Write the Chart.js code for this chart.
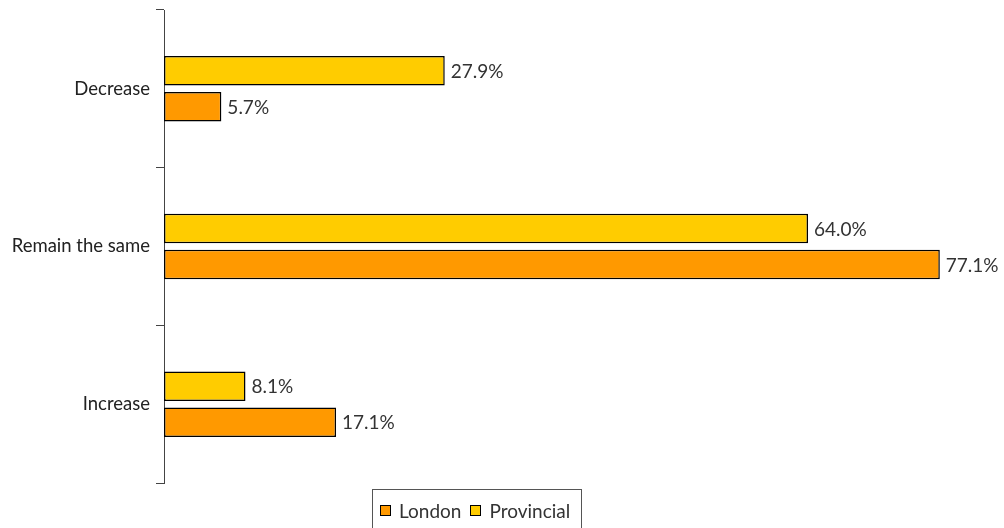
<!DOCTYPE html>
<html>
<head>
<meta charset="utf-8">
<script src="https://cdn.jsdelivr.net/npm/chart.js@4/dist/chart.umd.min.js"></script>
<style>
  body { margin: 0; background: #fff; }
  #wrap { position: relative; width: 1004px; height: 528px; }
  #legend {
    position: absolute; left: 372px; top: 489px; width: 210px; height: 45px;
    border: 1px solid #555; font-family: Lato, sans-serif; font-size: 19px; color: #333;
    display: flex; align-items: flex-start; padding-top: 9px; box-sizing: border-box;
  }
  .item { display: flex; align-items: center; margin-left: 7px; }
  .sw { width: 9px; height: 9px; border: 1px solid #000; margin-right: 8px; }
</style>
</head>
<body>
<div id="wrap">
  <canvas id="grafico" width="1004" height="528"></canvas>
  <div id="legend">
    <div class="item"><span class="sw" style="background:#ff9900"></span>London</div>
    <div class="item" style="margin-left:9px"><span class="sw" style="background:#ffcc00"></span>Provincial</div>
  </div>
</div>
<script>
// Datos
const categorias = ['Decrease', 'Remain the same', 'Increase'];
const provincial = [27.9, 64.0, 8.1];
const london = [5.7, 77.1, 17.1];

// Etiquetas de valor al final de cada barra
const etiquetas = {
    id: 'etiquetas',
    afterDatasetsDraw(chart) {
        const ctx = chart.ctx;
        ctx.save();
        ctx.font = '19px Lato, sans-serif';
        ctx.fillStyle = '#333';
        ctx.textBaseline = 'middle';
        chart.data.datasets.forEach((ds, i) => {
            chart.getDatasetMeta(i).data.forEach((bar, j) => {
                ctx.fillText(ds.data[j].toFixed(1) + '%', bar.x + 6, bar.y + 1);
            });
        });
        ctx.restore();
    }
};

const ctx = document.getElementById('grafico').getContext('2d');
const miGrafico = new Chart(ctx, {
    type: 'bar',
    data: {
        labels: categorias,
        datasets: [
            { label: 'Provincial', data: provincial, backgroundColor: '#ffcc00', borderColor: '#000', borderWidth: 1.5, borderSkipped: false },
            { label: 'London', data: london, backgroundColor: '#ff9900', borderColor: '#000', borderWidth: 1.5, borderSkipped: false }
        ]
    },
    options: {
        indexAxis: 'y',
        responsive: false,
        animation: false,
        barPercentage: 0.82,
        categoryPercentage: 0.457,
        layout: { padding: { top: 10, right: 35, bottom: 45, left: 0 } },
        plugins: { legend: { display: false }, tooltip: { enabled: false } },
        scales: {
            x: { display: false, min: 0, max: 80 },
            y: {
                afterFit: s => { s.width = 164; s.paddingTop = 0; s.paddingBottom = 0; },
                border: { display: true, color: '#444', width: 1 },
                grid: { offset: true, drawOnChartArea: false, tickLength: 8, color: '#444' },
                ticks: { padding: 6, color: '#222', font: { family: 'Lato, sans-serif', size: 18.5 } }
            }
        }
    },
    plugins: [etiquetas]
});
</script>
</body>
</html>
